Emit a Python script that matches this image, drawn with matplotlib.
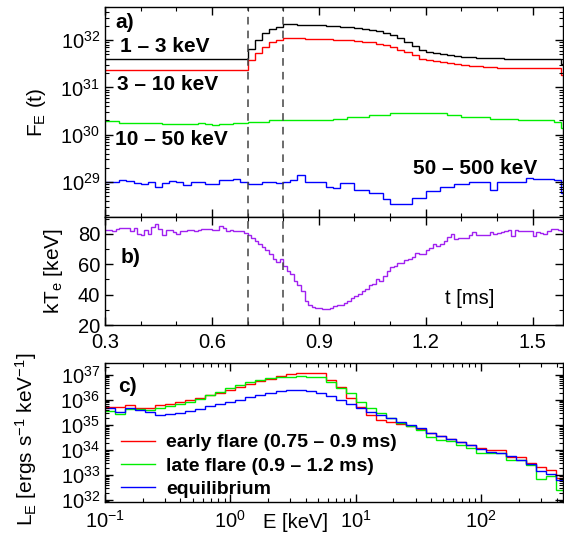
import numpy as np
import matplotlib
matplotlib.use("Agg")
import matplotlib.pyplot as plt
from matplotlib.ticker import MultipleLocator, LogLocator, NullFormatter
from matplotlib.lines import Line2D

plt.rcParams['font.family'] = ['Liberation Sans', 'DejaVu Sans']
plt.rcParams['mathtext.fontset'] = 'custom'
plt.rcParams['mathtext.rm'] = 'Liberation Sans'
plt.rcParams['mathtext.it'] = 'Liberation Sans:italic'
plt.rcParams['mathtext.bf'] = 'Liberation Sans:bold'

# ---------------- data ----------------
# panel a: time bins (ms), width 0.02
t_edges_a = np.round(np.arange(0.30, 1.6001, 0.02), 3)
logF_1_3 = [31.59]*20 + [31.82, 32.01, 32.14, 32.23, 32.28,
            32.33, 32.33, 32.32, 32.32, 32.31, 32.31, 32.30, 32.29, 32.28, 32.27,
            32.26, 32.24, 32.22, 32.19, 32.15, 32.11, 32.04, 31.96, 31.88, 31.80,
            31.75, 31.72, 31.70, 31.68, 31.67, 31.65, 31.64, 31.63, 31.63, 31.62,
            31.62, 31.61, 31.61, 31.61, 31.61, 31.60, 31.60, 31.60, 31.60, 31.49]
logF_3_10 = [31.36]*20 + [31.57, 31.72, 31.86, 31.95, 32.01,
             32.04, 32.04, 32.04, 32.03, 32.03, 32.02, 32.02, 32.01, 32.01, 32.00,
             31.99, 31.97, 31.95, 31.92, 31.89, 31.85, 31.80, 31.74, 31.68, 31.61,
             31.57, 31.55, 31.53, 31.51, 31.49, 31.48, 31.46, 31.45, 31.44, 31.43,
             31.42, 31.41, 31.41, 31.40, 31.40, 31.40, 31.40, 31.40, 31.40, 31.26]
logF_10_50 = [30.28, 30.28, 30.25, 30.25, 30.25, 30.25, 30.25, 30.25, 30.23, 30.23,
              30.23, 30.23, 30.23, 30.24, 30.22, 30.21, 30.23, 30.23, 30.24, 30.24,
              30.26, 30.26, 30.26, 30.30, 30.30, 30.30, 30.30, 30.30, 30.30, 30.30,
              30.30, 30.30, 30.33, 30.33, 30.38, 30.38, 30.38, 30.42, 30.42, 30.42,
              30.45, 30.45, 30.45, 30.45, 30.45, 30.45, 30.45, 30.45, 30.42, 30.42,
              30.38, 30.38, 30.38, 30.38, 30.33, 30.33, 30.33, 30.33, 30.30, 30.30,
              30.30, 30.30, 30.30, 30.27, 30.14]
logF_50_500 = [29.00, 29.00, 29.04, 29.02, 28.97, 28.96, 29.00, 28.90, 28.98, 29.03,
               28.99, 28.94, 28.99, 28.99, 28.96, 28.96, 29.04, 29.04, 29.06, 29.00,
               28.96, 28.96, 28.99, 28.99, 28.97, 29.00, 29.04, 29.15, 29.00, 28.99,
               29.00, 28.89, 28.88, 28.97, 28.97, 28.84, 28.84, 28.76, 28.77, 28.65,
               28.53, 28.54, 28.54, 28.67, 28.67, 28.81, 28.81, 28.90, 28.90, 28.96,
               28.96, 29.00, 29.00, 29.00, 28.84, 29.00, 29.00, 28.99, 28.99, 29.08,
               29.07, 29.06, 29.06, 29.05, 28.76]

# panel b: electron temperature, bins of 0.01 ms
t_edges_b = np.round(np.arange(0.30, 1.6001, 0.01), 3)
kTe = [82.2, 82.2, 81.5, 83.3, 83.8, 83.8, 83.8, 81.5, 83.8, 80.0,
       78.9, 82.2, 80.0, 84.5, 86.1, 83.0, 79.4, 82.2, 82.5, 81.0,
       80.0, 81.5, 81.5, 82.2, 82.2, 82.0, 82.2, 83.3, 83.3, 83.3,
       82.2, 82.2, 84.9, 84.0, 81.5, 82.2, 81.5, 81.5, 81.5, 80.5,
       79.5, 77.5, 75.5, 73.5, 71.0, 69.5, 66.5, 63.5, 61.5, 63.3,
       59.0, 55.5, 53.3, 49.0, 46.0, 42.2, 36.0, 33.3, 32.0, 31.1,
       31.1, 30.4, 30.6, 31.1, 32.2, 33.0, 33.3, 34.4, 36.0, 37.5,
       38.9, 40.5, 42.5, 44.0, 46.0, 46.7, 50.0, 49.0, 52.0, 55.5,
       58.0, 59.0, 60.5, 61.1, 63.0, 63.3, 64.4, 67.5, 66.7, 67.0,
       69.5, 70.5, 73.3, 72.2, 73.5, 75.5, 78.0, 80.0, 76.7, 77.0,
       77.1, 77.1, 79.0, 81.1, 78.9, 79.3, 79.3, 79.5, 81.0, 80.0,
       80.5, 81.1, 81.5, 82.2, 78.5, 82.5, 82.0, 81.5, 81.5, 81.5,
       78.5, 81.0, 80.5, 80.0, 81.5, 82.9, 82.9, 82.5, 81.5, 81.5]

# panel c: spectra, log-spaced energy bins (keV)
logE_edges = np.round(np.arange(-1.0, 2.6801, 0.08), 3)
logL_early = [35.73, 35.73, 35.80, 35.67, 35.67, 35.80, 35.85, 35.93, 36.00, 36.10,
              36.20, 36.30, 36.42, 36.53, 36.64, 36.75, 36.85, 36.95, 37.03, 37.07,
              37.07, 37.07, 36.80, 36.53, 36.07, 35.73, 35.40, 35.20, 35.13, 35.05,
              34.95, 34.85, 34.67, 34.55, 34.45, 34.33, 34.20, 34.10, 34.00, 34.00,
              33.73, 33.73, 33.50, 33.33, 33.20, 32.90]
logL_late = [35.55, 35.45, 35.65, 35.65, 35.60, 35.67, 35.75, 35.83, 35.93, 36.05,
             36.20, 36.33, 36.47, 36.60, 36.73, 36.80, 36.87, 36.90, 36.93, 36.95,
             36.93, 36.90, 36.73, 36.47, 36.30, 35.93, 35.67, 35.47, 35.27, 35.07,
             34.95, 34.80, 34.53, 34.40, 34.35, 34.20, 34.07, 33.87, 33.87, 33.87,
             33.60, 33.60, 33.40, 32.83, 32.96, 32.40]
logL_equil = [35.67, 35.53, 35.67, 35.60, 35.53, 35.40, 35.45, 35.50, 35.57, 35.65,
              35.75, 35.85, 35.93, 36.02, 36.12, 36.20, 36.28, 36.35, 36.40, 36.40,
              36.37, 36.30, 36.15, 36.00, 35.85, 35.67, 35.53, 35.40, 35.27, 35.13,
              35.00, 34.90, 34.67, 34.55, 34.45, 34.33, 34.20, 34.05, 33.93, 33.90,
              33.75, 33.60, 33.45, 33.15, 33.05, 32.80]

band_labels = ["1 – 3 keV", "3 – 10 keV", "10 – 50 keV", "50 – 500 keV"]
legend_labels = ["early flare (0.75 – 0.9 ms)", "late flare (0.9 – 1.2 ms)", "equilibrium"]
flare_marks = [0.7, 0.8]

# ---------------- figure ----------------
fig = plt.figure(figsize=(5.64, 5.33), dpi=100)
L, W = 0.1862, 0.812
axa = fig.add_axes([L, 0.5929, W, 0.394])
axb = fig.add_axes([L, 0.3902, W, 0.2026])
axc = fig.add_axes([L, 0.0582, W, 0.2608])

FS = 14.5
lw = 1.0

def style(ax):
    ax.tick_params(which='both', direction='in', top=True, right=True, labelsize=FS)
    ax.tick_params(which='major', length=6, width=1)
    ax.tick_params(which='minor', length=3, width=0.8)
    for s in ax.spines.values():
        s.set_linewidth(1.0)

# panel a
cols_a = ['black', '#ff0000', '#00ee00', '#0000ff']
for vals, c in zip([logF_1_3, logF_3_10, logF_10_50, logF_50_500], cols_a):
    axa.stairs(10 ** np.array(vals), t_edges_a, color=c, lw=lw, baseline=None)
axa.set_yscale('log')
axa.set_ylim(10 ** 28.26, 10 ** 32.7)
axa.set_xlim(0.3, 1.585)
axa.xaxis.set_major_locator(MultipleLocator(0.3))
axa.xaxis.set_minor_locator(MultipleLocator(0.1))
axa.yaxis.set_major_locator(LogLocator(base=10, numticks=10))
axa.yaxis.set_minor_locator(LogLocator(base=10, subs=np.arange(2, 10), numticks=20))
axa.yaxis.set_minor_formatter(NullFormatter())
axa.tick_params(labelbottom=False)
style(axa)
axa.set_ylabel(r"F$_{\mathrm{E}}$ (t)", fontsize=15, labelpad=9)
axa.text(0.022, 0.924, "a)", transform=axa.transAxes, fontsize=15, fontweight='bold', va='center')
pos_a = [(0.033, 0.814), (0.026, 0.629), (0.022, 0.371), (0.672, 0.233)]
for lab, (x, y) in zip(band_labels, pos_a):
    axa.text(x, y, lab, transform=axa.transAxes, fontsize=15, fontweight='bold', va='center')

# panel b
axb.stairs(kTe, t_edges_b, color='#a020f0', lw=lw, baseline=None)
axb.set_xlim(0.3, 1.585)
axb.set_ylim(20, 91)
axb.xaxis.set_major_locator(MultipleLocator(0.3))
axb.xaxis.set_minor_locator(MultipleLocator(0.1))
axb.yaxis.set_major_locator(MultipleLocator(20))
axb.yaxis.set_minor_locator(MultipleLocator(10))
style(axb)
axb.tick_params(axis='x', pad=6)
axb.set_xticks([0.3, 0.6, 0.9, 1.2, 1.5])
axb.set_xticklabels(["0.3", "0.6", "0.9", "1.2", "1.5"])
axb.set_ylabel(r"kT$_{\mathrm{e}}$ [keV]", fontsize=15, labelpad=9)
axb.text(0.035, 0.624, "b)", transform=axb.transAxes, fontsize=15, fontweight='bold', va='center')
axb.text(0.742, 0.248, "t [ms]", transform=axb.transAxes, fontsize=14.5, va='center')

for ax in (axa, axb):
    for xm in flare_marks:
        ax.axvline(xm, color='#444444', lw=1.1, ls=(0, (5, 4)))

# panel c
E_edges = 10 ** logE_edges
cols_c = ['#ff0000', '#00ee00', '#0000ff']
for vals, c in zip([logL_early, logL_late, logL_equil], cols_c):
    axc.stairs(10 ** np.array(vals), E_edges, color=c, lw=lw, baseline=None)
axc.set_xscale('log')
axc.set_yscale('log')
axc.set_xlim(0.1, 450)
axc.set_ylim(10 ** 31.93, 10 ** 37.48)
axc.xaxis.set_major_locator(LogLocator(base=10, numticks=10))
axc.xaxis.set_minor_locator(LogLocator(base=10, subs=np.arange(2, 10), numticks=20))
axc.xaxis.set_minor_formatter(NullFormatter())
axc.yaxis.set_major_locator(LogLocator(base=10, numticks=10))
axc.yaxis.set_minor_locator(LogLocator(base=10, subs=np.arange(2, 10), numticks=20))
axc.yaxis.set_minor_formatter(NullFormatter())
style(axc)
axc.tick_params(axis='x', pad=6)
axc.set_ylabel(r"L$_{\mathrm{E}}$ [ergs s$^{-1}$ keV$^{-1}$]", fontsize=15, labelpad=0)
axc.yaxis.set_label_coords(-0.145, 0.45)
axc.text(0.028, 0.83, "c)", transform=axc.transAxes, fontsize=15, fontweight='bold', va='center')
axc.text(0.415, -0.145, "E [keV]", transform=axc.transAxes, fontsize=14.5, ha='center', va='center')
handles = [Line2D([], [], color=c, lw=lw) for c in cols_c]
axc.legend(handles, legend_labels, loc='lower left', bbox_to_anchor=(0.0, -0.085),
           frameon=False, prop={'weight': 'bold', 'size': 14}, handlelength=1.75,
           handletextpad=0.6, labelspacing=0.3, borderpad=0.3)

fig.savefig("out.png", dpi=100)
